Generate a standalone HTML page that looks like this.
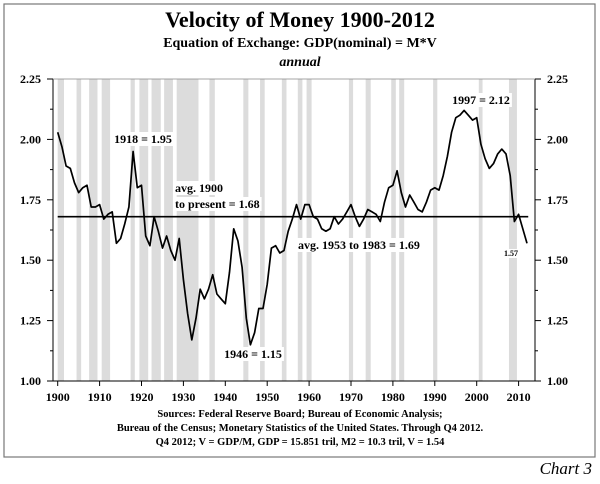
<!DOCTYPE html>
<html><head><meta charset="utf-8"><style>
body{margin:0;background:#fff;}
svg text{font-family:"Liberation Serif",serif;font-weight:bold;fill:#000;}
</style></head><body>
<svg width="600" height="479" viewBox="0 0 600 479" xmlns="http://www.w3.org/2000/svg">
<rect x="4" y="4" width="591" height="453" fill="#fff" stroke="#777" stroke-width="1.2"/>
<text x="300" y="27" text-anchor="middle" font-size="22">Velocity of Money 1900-2012</text>
<text x="300" y="47" text-anchor="middle" font-size="14">Equation of Exchange: GDP(nominal) = M*V</text>
<text x="300" y="66" text-anchor="middle" font-size="14" font-style="italic">annual</text>
<g id="bands"></g>
<g id="labelsbg"></g>
<g id="axes"></g>
<g id="series"></g>
<g id="annot"></g>
<text x="300" y="417" text-anchor="middle" font-size="10.5">Sources: Federal Reserve Board; Bureau of Economic Analysis;</text>
<text x="300" y="431" text-anchor="middle" font-size="10.5">Bureau of the Census; Monetary Statistics of the United States. Through Q4 2012.</text>
<text x="300" y="445" text-anchor="middle" font-size="10.5">Q4 2012; V = GDP/M, GDP = 15.851 tril, M2 = 10.3 tril, V = 1.54</text>
<text x="592" y="474" text-anchor="end" font-size="17" font-style="italic" style="font-weight:normal">Chart 3</text>
</svg>
<script>
const years = [];
for (let y = 1900; y <= 2012; y++) years.push(y);
const velocity = [2.03,1.97,1.89,1.88,1.82,1.78,1.80,1.81,1.72,1.72,
1.73,1.67,1.69,1.70,1.57,1.59,1.65,1.72,1.95,1.80,
1.81,1.60,1.56,1.68,1.62,1.55,1.60,1.54,1.50,1.59,
1.42,1.28,1.17,1.26,1.38,1.34,1.38,1.44,1.36,1.34,
1.32,1.45,1.63,1.58,1.47,1.26,1.15,1.20,1.30,1.30,
1.40,1.55,1.56,1.53,1.54,1.62,1.67,1.73,1.67,1.73,
1.73,1.68,1.67,1.63,1.62,1.63,1.68,1.65,1.67,1.70,
1.73,1.68,1.64,1.67,1.71,1.70,1.69,1.66,1.74,1.80,
1.81,1.87,1.78,1.72,1.77,1.74,1.71,1.70,1.74,1.79,
1.80,1.79,1.85,1.93,2.03,2.09,2.10,2.12,2.10,2.08,
2.09,1.98,1.92,1.88,1.90,1.94,1.96,1.94,1.85,1.66,
1.69,1.63,1.57];
const recessionStarts = [1900,1904.5,1907.5,1910.5,1917.4,1919.5,1922.4,1925.4,1928.4,1936.2,1944.3,1948.3,1953.5,1957.3,1959.4,1969.5,1973.5,1979.6,1981.5,1989.6,2000.5,2007.7];
const recessionEnds   = [1901.5,1905.6,1909.5,1912.5,1918.4,1921.6,1924.6,1927.5,1933.6,1937.5,1945.5,1949.4,1954.6,1958.4,1960.6,1970.5,1974.7,1980.7,1982.7,1990.6,2001.4,2009.6];
const yTicks = [1.00,1.25,1.50,1.75,2.00,2.25];
const xTicks = [1900,1910,1920,1930,1940,1950,1960,1970,1980,1990,2000,2010];
const avgAll = 1.68;

const NS = "http://www.w3.org/2000/svg";
const X = yr => 57.7 + (yr - 1900) * 4.19;
const Y = v => 381 - (v - 1.00) * 241.6;
function mk(tag, attrs, parent){const e=document.createElementNS(NS,tag);for(const k in attrs)e.setAttribute(k,attrs[k]);parent.appendChild(e);return e;}
const bands=document.getElementById('bands'), axes=document.getElementById('axes'), series=document.getElementById('series'), annot=document.getElementById('annot');

recessionStarts.forEach((s,i)=>{
  const r=mk('rect',{x:X(s),y:Y(2.25),width:X(recessionEnds[i])-X(s),height:Y(1.0)-Y(2.25),fill:'#dcdcdc'},bands);
  
  
});

// axes
const L=53, R=535;
mk('line',{x1:L,y1:Y(2.25),x2:L,y2:Y(1.0),stroke:'#000','stroke-width':1},axes);
mk('line',{x1:R,y1:Y(2.25),x2:R,y2:Y(1.0),stroke:'#000','stroke-width':1},axes);
mk('line',{x1:L,y1:Y(1.0),x2:R,y2:Y(1.0),stroke:'#000','stroke-width':1},axes);
mk('line',{x1:L,y1:Y(2.25),x2:R,y2:Y(2.25),stroke:'#888','stroke-width':0.8},axes);
for(let v=1.0; v<=2.2501; v+=0.125){
  const major = Math.abs((v*4)-Math.round(v*4))<1e-6;
  const len = major?6:3;
  mk('line',{x1:L-len,y1:Y(v),x2:L,y2:Y(v),stroke:'#000'},axes);
  mk('line',{x1:R,y1:Y(v),x2:R+len,y2:Y(v),stroke:'#000'},axes);
}
yTicks.forEach(v=>{
  const t1=mk('text',{x:41,y:Y(v)+4,'text-anchor':'end','font-size':12},axes);
  t1.textContent=v.toFixed(2);
  
  
  const t2=mk('text',{x:547,y:Y(v)+4,'font-size':12},axes);
  t2.textContent=v.toFixed(2);
  
  
});
xTicks.forEach(yr=>{
  mk('line',{x1:X(yr),y1:Y(1.0),x2:X(yr),y2:Y(1.0)+5,stroke:'#000'},axes);
  const t=mk('text',{x:X(yr),y:401,'text-anchor':'middle','font-size':12},axes);
  t.textContent=yr;
  
  
});

// label backgrounds (white boxes that cut bands)
function label(txt,x,y,anchor,size,name){
  const t=mk('text',{x:x,y:y,'text-anchor':anchor,'font-size':size},annot);
  t.textContent=txt;
  
  
  const b=t.getBBox();
  const bg=mk('rect',{x:b.x-2,y:b.y,width:b.width+4,height:b.height,fill:'#fff'},document.getElementById('labelsbg'));
  
  
}

// average line
const avg=mk('line',{x1:X(1900),y1:Y(avgAll),x2:X(2012.3),y2:Y(avgAll),stroke:'#000','stroke-width':1.6},series);


const pts=years.map((yr,i)=>X(yr).toFixed(1)+','+Y(velocity[i]).toFixed(1)).join(' ');
const pl=mk('polyline',{points:pts,fill:'none',stroke:'#000','stroke-width':1.7,'stroke-linejoin':'round'},series);



label('1918 = 1.95',143,143,'middle',12,'peak-1918-label');
label('avg. 1900',175,192,'start',12,'avg-label-line-1');
label('to present = 1.68',175,208,'start',12,'avg-label-line-2');
label('1946 = 1.15',253,358,'middle',12,'trough-1946-label');
label('avg. 1953 to 1983 = 1.69',298,249,'start',12,'avg-1953-1983-label');
label('1997 = 2.12',481,104,'middle',12,'peak-1997-label');
label('1.57',511,256,'middle',8,'last-value-label');
</script>
</body></html>
